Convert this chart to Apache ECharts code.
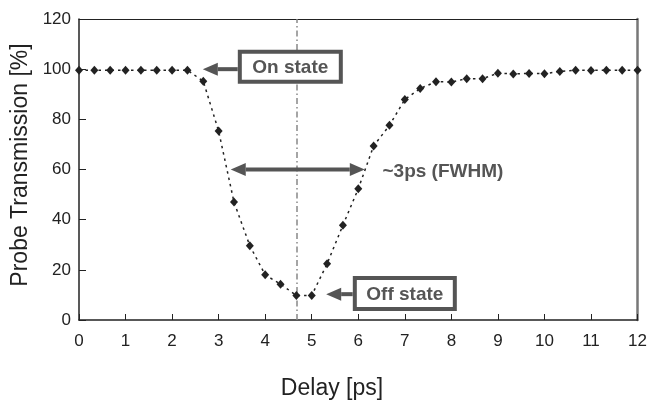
<!DOCTYPE html>
<html>
<head>
<meta charset="utf-8">
<script src="https://cdn.jsdelivr.net/npm/echarts@6/dist/echarts.min.js"></script>
<style>
  html, body { margin: 0; padding: 0; background: #fff; }
  #chart { width: 650px; height: 403px; }
</style>
</head>
<body>
<div id="chart"></div>
<script>
// Pump-probe delay scan: probe transmission vs. delay
const delays = [0, 0.33, 0.67, 1, 1.33, 1.67, 2, 2.33, 2.67, 3, 3.33, 3.67, 4, 4.33, 4.67, 5,
  5.33, 5.67, 6, 6.33, 6.67, 7, 7.33, 7.67, 8, 8.33, 8.67, 9, 9.33, 9.67, 10, 10.33, 10.67,
  11, 11.33, 11.67, 12];
const transmission = [99.6, 99.6, 99.6, 99.6, 99.6, 99.6, 99.6, 99.6, 95.2, 75.3, 47, 29.6,
  18, 14.3, 9.8, 9.8, 22.4, 37.8, 52.3, 69.4, 77.6, 87.9, 92.3, 95, 94.9, 96.2, 96.2, 98.4,
  98.1, 98.3, 98.2, 99.1, 99.6, 99.5, 99.6, 99.6, 99.6];
const xTicks = [0, 1, 2, 3, 4, 5, 6, 7, 8, 9, 10, 11, 12];
const yTicks = [0, 20, 40, 60, 80, 100, 120];

// Centre of the switching window (vertical reference line)
const centreDelay = 4.68;
// FWHM span at half transmission
const fwhmFrom = 3.26, fwhmTo = 6.14, fwhmLevel = 60;

const FONT = '"Liberation Sans", Arial, Helvetica, sans-serif';
const INK = '#222';
const ANNO = '#555';

const points = delays.map((d, i) => [d, transmission[i]]);

const chart = echarts.init(document.getElementById('chart'), null, { renderer: 'canvas' });

chart.setOption({
  animation: false,
  backgroundColor: '#fff',
  grid: { left: 79, right: 12, top: 19, bottom: 83, containLabel: false },
  xAxis: [{
    type: 'value',
    min: xTicks[0], max: xTicks[xTicks.length - 1], interval: xTicks[1] - xTicks[0],
    axisLine: { show: true, lineStyle: { color: INK, width: 1.5 } },
    axisTick: { show: true, inside: true, length: 6, lineStyle: { color: INK, width: 1 } },
    axisLabel: { color: INK, fontSize: 17, fontFamily: FONT, margin: 13 },
    splitLine: { show: false }
  }, {
    type: 'value', position: 'top',
    min: xTicks[0], max: xTicks[xTicks.length - 1],
    axisLine: { show: true, onZero: false, lineStyle: { color: INK, width: 1.2 } },
    axisTick: { show: false }, axisLabel: { show: false }, splitLine: { show: false }
  }],
  yAxis: [{
    type: 'value',
    min: yTicks[0], max: yTicks[yTicks.length - 1], interval: yTicks[1] - yTicks[0],
    axisLine: { show: true, lineStyle: { color: INK, width: 1.5 } },
    axisTick: { show: true, inside: true, length: 7, lineStyle: { color: INK, width: 1 } },
    axisLabel: { color: INK, fontSize: 17, fontFamily: FONT, margin: 8 },
    splitLine: { show: false }
  }, {
    type: 'value', position: 'right',
    min: yTicks[0], max: yTicks[yTicks.length - 1],
    axisLine: { show: true, onZero: false, lineStyle: { color: '#777', width: 2.5 } },
    axisTick: { show: false }, axisLabel: { show: false }, splitLine: { show: false }
  }],
  series: [{
    type: 'line',
    data: points,
    symbol: 'diamond',
    symbolSize: [8, 9],
    itemStyle: { color: INK },
    lineStyle: { color: INK, width: 1.5, type: [2.5, 4] },
    z: 3,
    markLine: {
      silent: true,
      symbol: ['none', 'none'],
      label: { show: false },
      lineStyle: { color: '#888', width: 1.5, type: [6, 3, 1.5, 3] },
      data: [{ xAxis: centreDelay }],
      z: 1
    }
  }]
});

// Annotation layer: arrows, boxed labels and the FWHM note
function px(x, y) { return chart.convertToPixel({ gridIndex: 0 }, [x, y]); }

function arrowHead(tip, from, len, width) {
  const dx = tip[0] - from[0], dy = tip[1] - from[1];
  const l = Math.hypot(dx, dy), ux = dx / l, uy = dy / l;
  const bx = tip[0] - ux * len, by = tip[1] - uy * len;
  return {
    base: [bx, by],
    el: {
      type: 'polygon', z: 20,
      shape: { points: [tip, [bx - uy * width / 2, by + ux * width / 2], [bx + uy * width / 2, by - ux * width / 2]] },
      style: { fill: ANNO }
    }
  };
}

function arrow(tail, tip, both) {
  const HL = 15, HW = 13;
  const h1 = arrowHead(tip, tail, HL, HW);
  const els = [h1.el];
  let start = tail;
  if (both) {
    const h0 = arrowHead(tail, tip, HL, HW);
    els.push(h0.el);
    start = h0.base;
  }
  els.push({
    type: 'line', z: 19,
    shape: { x1: start[0], y1: start[1], x2: h1.base[0], y2: h1.base[1] },
    style: { stroke: ANNO, lineWidth: 4 }
  });
  return els;
}

function boxLabel(centre, w, h, text) {
  return [{
    type: 'rect', z: 21,
    shape: { x: centre[0] - w / 2 + 2, y: centre[1] - h / 2 + 2, width: w - 4, height: h - 4 },
    style: { fill: '#fff', stroke: ANNO, lineWidth: 4 }
  }, {
    type: 'text', z: 22,
    style: {
      text: text, x: centre[0], y: centre[1] + 1,
      font: 'bold 19px ' + FONT, fill: ANNO,
      textAlign: 'center', textVerticalAlign: 'middle',
      align: 'center', verticalAlign: 'middle'
    }
  }];
}

const onTail = px(3.41, 100), onTip = px(2.66, 100);
const offTail = px(5.88, 10.3), offTip = px(5.31, 10.3);
const fwA = px(fwhmFrom, fwhmLevel), fwB = px(fwhmTo, fwhmLevel);
const noteAt = px(6.52, 59.1);

const graphics = []
  .concat(arrow(onTail, onTip, false))
  .concat(boxLabel(px(4.54, 101), 105, 34, 'On state'))
  .concat(arrow(offTail, offTip, false))
  .concat(boxLabel(px(7.0, 10.6), 104, 35, 'Off state'))
  .concat(arrow(fwA, fwB, true))
  .concat([{
    type: 'text', z: 22,
    style: {
      text: '~3ps (FWHM)', x: noteAt[0], y: noteAt[1],
      font: 'bold 19px ' + FONT, fill: ANNO,
      textAlign: 'left', textVerticalAlign: 'middle',
      align: 'left', verticalAlign: 'middle'
    }
  }, {
    type: 'text', z: 22,
    x: 21, y: 165, rotation: Math.PI / 2,
    style: {
      text: 'Probe Transmission [%]', x: 0, y: 0,
      font: '23px ' + FONT, fill: INK,
      textAlign: 'center', textVerticalAlign: 'middle',
      align: 'center', verticalAlign: 'middle'
    }
  }, {
    type: 'text', z: 22,
    style: {
      text: 'Delay [ps]', x: 332, y: 389,
      font: '23px ' + FONT, fill: INK,
      textAlign: 'center', textVerticalAlign: 'middle',
      align: 'center', verticalAlign: 'middle'
    }
  }]);

chart.setOption({ graphic: graphics });
</script>
</body>
</html>
